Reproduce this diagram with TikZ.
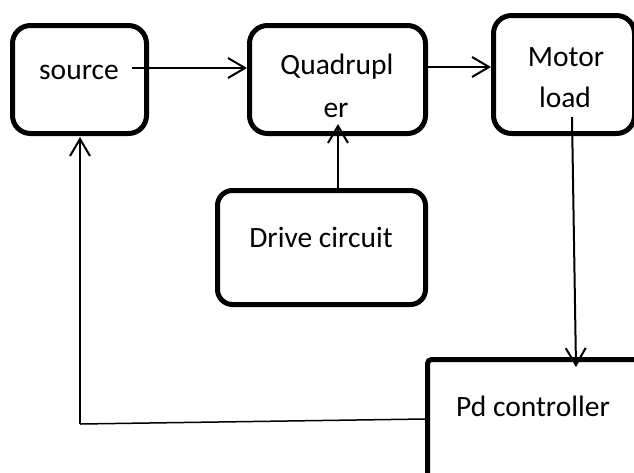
\documentclass[tikz,border=0pt]{standalone}
\usepackage{fontspec}
\setmainfont{Carlito}
\usetikzlibrary{arrows.meta}
\begin{document}
\begin{tikzpicture}[x=1pt,y=-1pt,
  box/.style={draw, line width=5pt, rounded corners=18pt, inner sep=0pt},
  lbl/.style={font=\fontsize{29.5}{35}\selectfont, anchor=base, inner sep=0pt},
  arr/.style={line width=2pt, -{Straight Barb[length=17pt,width=20pt,line width=2pt]}},
  fb/.style={line width=1.5pt}]
\useasboundingbox (0,0) rectangle (634,472);
\clip (0,0) rectangle (634,472);

% blocks
\node[box, minimum width=134pt, minimum height=108pt] (src) at (79.5,79.5) {};
\node[box, minimum width=176pt, minimum height=108pt] (quad) at (337.5,79.5) {};
\node[box, minimum width=141pt, minimum height=118pt] (motor) at (564,74.5) {};
\node[box, rounded corners=15pt, minimum width=208pt, minimum height=114pt] (drive) at (321.5,247.5) {};
\node[box, rounded corners=4pt, minimum width=300pt, minimum height=200pt] (pd) at (577.5,459.5) {};

% labels
\node[lbl] (srct) at (79,79) {source};
\node[lbl] (quadt1) at (337,74) {Quadrupl};
\node[lbl] (quadt2) at (336,117) {er};
\node[lbl] (motort1) at (566,66) {Motor};
\node[lbl] (motort2) at (565,107) {load};
\node[lbl] (drivet) at (321,247) {Drive circuit};
\node[lbl] (pdt) at (533,416) {Pd controller};

% connector end points
\coordinate (s0) at (132,68);
\coordinate (qin) at (338,124);
\coordinate (m0) at (572,117);
\coordinate (pin) at (576,367);
\coordinate (fbc) at (80,424);
\coordinate (sin) at (80,137);

% connectors
\draw[arr] (s0) -- (quad.west |- s0);
\draw[arr] (quad.east |- 0,67) -- (motor.west |- 0,67);
\draw[arr] (drive.north -| qin) -- (qin);
\draw[arr] (m0) -- (pin);
\draw[fb] (pd.west |- 0,419) -- (fbc);
\draw[fb, -{Straight Barb[length=17pt,width=20pt,line width=2pt]}] (fbc) -- (sin);
\end{tikzpicture}
\end{document}
